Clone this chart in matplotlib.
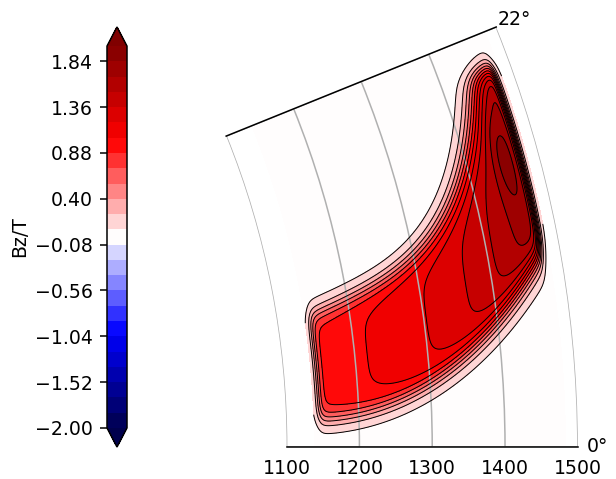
import numpy as np
import matplotlib.pyplot as plt

# computation window of the coil cross-section (r in mm, theta in degrees)
r_lo, r_hi = 1138, 1483
th_lo, th_hi = 0.0, 22.0

# contour levels of Bz in tesla and the ticks shown on the colour bar
levels = np.round(np.arange(-2.0, 2.01, 0.16), 2)
cbar_ticks = levels[::3]

# outer (low field) edges of the winding in degrees, polynomials in u = (r - 1130) / 350
lower_edge = [0.8, 0.0, 8.5]             # c0 + c2*u^2
upper_edge = [9.6, 4.0, 14.1]            # c0 + c1*u + c4*u^4
top_edge = 20.95                         # end of the winding in theta
inner_end, outer_end = 1145.0, 1474.0    # radial ends of the winding (mid of the fall-off)
edge_w, inner_w, outer_w = 16.0, 7.0, 6.0

# plateau value along r and the hot spot near the outer bend
plateau = [0.305, 355.0, 1700.0]         # a + b / (rp - r)
spot = [0.2, 1449.0, 15.4, 14.0, 2.6]    # amplitude, r, theta, sigma_r, sigma_theta


def step(d, w):
    return 0.5 * (1 + np.tanh(d / w))


r = np.linspace(r_lo, r_hi, 500)
th = np.linspace(th_lo, th_hi, 400)
TH, R = np.meshgrid(th, r)
u = (R - 1130) / 350
arc = R * np.pi / 180


def normal_dist(t_edge):
    # distance in mm from a theta(r) edge, measured normal to the edge
    slope = np.gradient(t_edge, r, axis=0) * arc
    return (TH - t_edge) * arc / np.sqrt(1 + slope**2)


t_low = lower_edge[0] + lower_edge[2] * u**2
t_up = upper_edge[0] + upper_edge[1] * u + upper_edge[2] * u**4
shift = 1.22 * edge_w

mask = (step(normal_dist(t_low) - shift, edge_w)
        * step(-normal_dist(t_up) - shift, edge_w)
        * step((top_edge - TH) * arc - shift, edge_w)
        * step(R - inner_end, inner_w) * step(outer_end - R, outer_w))

amp = plateau[0] + plateau[1] / (plateau[2] - R)
amp += spot[0] * np.exp(-((R - spot[1]) / spot[3])**2 - ((TH - spot[2]) / spot[4])**2)
Bz = amp * mask

plt.rcParams['font.size'] = 13.6
plt.rcParams['axes.linewidth'] = 1.1
plt.rcParams['grid.linewidth'] = 1.1
plt.rcParams['ytick.major.size'] = 4.8
plt.rcParams['ytick.major.width'] = 1.1

fig = plt.figure(figsize=(6.16, 4.79), dpi=100)
side = 420
ax = fig.add_axes([(402 - side / 2) / 616, (479 - 237 - side / 2) / 479, side / 616, side / 479],
                  projection='polar')

cf = ax.contourf(np.deg2rad(TH), R, Bz, levels=levels, cmap='seismic', extend='both')
ax.contour(np.deg2rad(TH), R, Bz, levels=levels, colors='k', linewidths=0.7)

ax.set_thetamin(0)
ax.set_thetamax(22)
ax.set_rlim(1100, 1500)
ax.set_rorigin(-40)
ax.set_thetagrids([0, 22])
ax.set_rticks([1100, 1200, 1300, 1400, 1500])
# the arcs are left to the r grid lines at 1100 and 1500
ax.spines['polar'].set_color('none')
ax.spines['inner'].set_color('none')

cax = fig.add_axes([107 / 616, 32 / 479, 20 / 616, 420 / 479])
cb = fig.colorbar(cf, cax=cax, ticks=cbar_ticks,
                  format=lambda x, _: f'{x:.2f}'.replace('-', '\u2212'))
cax.yaxis.set_ticks_position('left')
cax.yaxis.set_label_position('left')
cax.tick_params(pad=5.5)
cb.set_label('Bz/T')

plt.savefig('out.png', dpi=100)
